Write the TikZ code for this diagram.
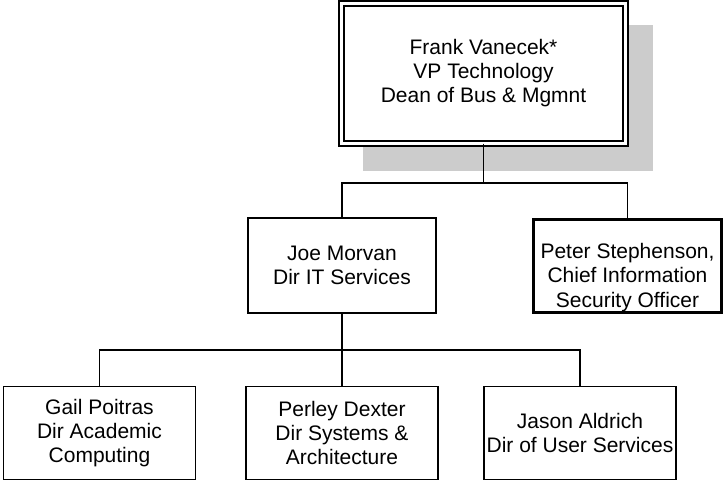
\documentclass[tikz,border=0pt]{standalone}
\usepackage{fontspec}
\setmainfont{Liberation Sans}
\definecolor{shadowgray}{HTML}{CCCCCC}
\begin{document}
\begin{tikzpicture}[x=1pt,y=-1pt,
  box/.style={draw=black, line width=1.6pt, fill=white, rectangle, outer sep=0pt, inner sep=0pt,
    align=center, font=\fontsize{21}{24}\selectfont},
  topbox/.style={box, double=white, line width=1.7pt, double distance=3.3pt,
    minimum width=284, minimum height=140},
  midbox/.style={box, minimum width=188, minimum height=95},
  secbox/.style={box, line width=3pt, minimum width=188, minimum height=93},
  lowbox/.style={box, minimum width=192, minimum height=93},
  txt/.style={align=center, inner sep=0pt, font=\fontsize{21}{24.5}\selectfont},
  conn/.style={draw=black, line width=1.6pt}]
\useasboundingbox (0,0) rectangle (726,483);
\fill[white] (0,0) rectangle (726,483);
% shadow of top box
\fill[shadowgray] (363,25) rectangle (653,171);
% nodes
\node[topbox] (top) at (483.5,73.5) {Frank Vanecek*\\VP Technology\\Dean of Bus \& Mgmnt};
\node[midbox] (joe) at (342,265.5) {Joe Morvan\\Dir IT Services};
\node[secbox] (peter) at (627.5,266) {};
\node[txt] (petertext) at (627.5,277.5) {Peter Stephenson,\\Chief Information\\Security Officer};
\node[lowbox] (gail) at (99.5,433) {Gail Poitras\\Dir Academic\\Computing};
\node[lowbox] (perley) at (342,433) {Perley Dexter\\Dir Systems \&\\Architecture};
\node[lowbox] (jason) at (580,433) {Jason Aldrich\\Dir of User Services};
% bus coordinates
\coordinate (bus1) at (483.5,183);
\coordinate (bus2) at (342,350);
% connectors
\draw[conn] (top.south) -- (bus1);
\draw[conn] (joe.north) |- (bus1) -| (peter.north);
\draw[conn] (joe.south) -- (bus2);
\draw[conn] (gail.north) |- (bus2) -| (jason.north);
\draw[conn] (bus2) -- (perley.north);
\end{tikzpicture}
\end{document}
